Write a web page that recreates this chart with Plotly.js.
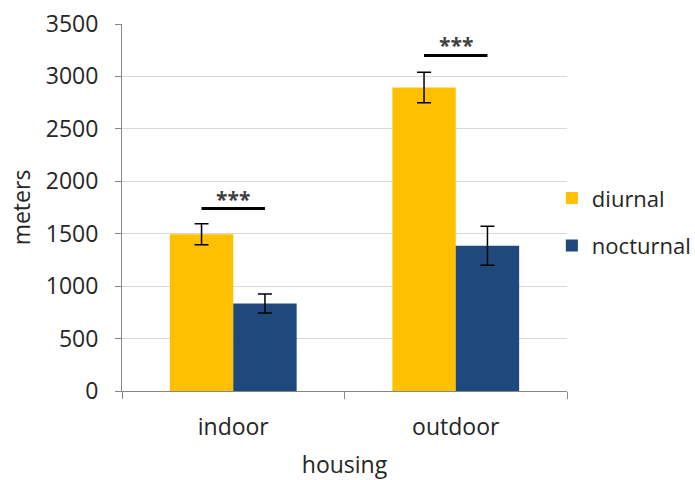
<!DOCTYPE html>
<html>
<head>
<meta charset="utf-8">
<script src="https://cdn.plot.ly/plotly-3.0.1.min.js"></script>
<style>html,body{margin:0;padding:0;background:#fff;}#chart{width:695px;height:480px;}</style>
</head>
<body>
<div id="chart"></div>
<script>
const categories = ["indoor", "outdoor"];
const seriesNames = ["diurnal", "nocturnal"];
const diurnal = [1495, 2895];
const diurnalErr = [100, 145];
const nocturnal = [835, 1385];
const nocturnalErr = [90, 185];
const sigLabels = ["***", "***"];
const sigY = [1740, 3200];

const FONT = "Open Sans, sans-serif";
const TXT = "#262626";
const FS = 23;
const bargap = 0.43;
const barW = (1 - bargap) / 2;

const traces = [
  {type: "bar", name: seriesNames[0], x: categories, y: diurnal, legendgroup: "a",
   marker: {color: "#FFC000"},
   error_y: {type: "data", array: diurnalErr, visible: true, color: "#000", thickness: 1.5, width: 7}},
  {type: "bar", name: seriesNames[1], x: categories, y: nocturnal, legendgroup: "b",
   marker: {color: "#1F497D"},
   error_y: {type: "data", array: nocturnalErr, visible: true, color: "#000", thickness: 1.5, width: 7}}
];

const shapes = [];
const annotations = [];
categories.forEach((c, i) => {
  const x0 = i - barW / 2, x1 = i + barW / 2;
  shapes.push({type: "line", xref: "x", yref: "y", x0: x0, x1: x1, y0: sigY[i], y1: sigY[i],
    line: {color: "#000", width: 3}});
  annotations.push({xref: "x", yref: "y", x: i, y: sigY[i], text: "<b>" + sigLabels[i] + "</b>", showarrow: false,
    yanchor: "bottom", yshift: -6, font: {family: FONT, size: 21, color: "#404040"}});
});

const layout = {
  width: 695, height: 480,
  margin: {l: 122, r: 128, t: 24, b: 89, autoexpand: false},
  paper_bgcolor: "#fff", plot_bgcolor: "#fff",
  barmode: "group", bargap: bargap, bargroupgap: 0,
  font: {family: FONT, size: FS, color: TXT},
  xaxis: {
    type: "category", tickson: "boundaries", ticks: "outside", ticklen: 7, tickcolor: "#868686",
    showline: true, linecolor: "#868686", linewidth: 1, showgrid: false,
    ticklabelstandoff: 15, automargin: false,
    tickfont: {family: FONT, size: FS, color: TXT},
    title: {text: "housing", font: {family: FONT, size: FS, color: TXT}, standoff: 17}
  },
  yaxis: {
    range: [0, 3500], dtick: 500, tick0: 0, ticks: "outside", ticklen: 6, tickcolor: "#868686",
    showline: true, linecolor: "#868686", linewidth: 1, automargin: false,
    showgrid: true, gridcolor: "#d9d9d9", gridwidth: 1, zeroline: false,
    ticklabelstandoff: 12,
    tickfont: {family: FONT, size: FS, color: TXT},
    title: {text: "meters", font: {family: FONT, size: FS, color: TXT}, standoff: 8}
  },
  legend: {x: 0.966, xanchor: "left", y: 0.46, yanchor: "middle", traceorder: "grouped",
    tracegroupgap: 16, font: {family: FONT, size: 22, color: TXT}, itemwidth: 30, bgcolor: "rgba(0,0,0,0)"},
  shapes: shapes,
  annotations: annotations
};

Plotly.newPlot("chart", traces, layout, {staticPlot: true, displayModeBar: false});
</script>
</body>
</html>
